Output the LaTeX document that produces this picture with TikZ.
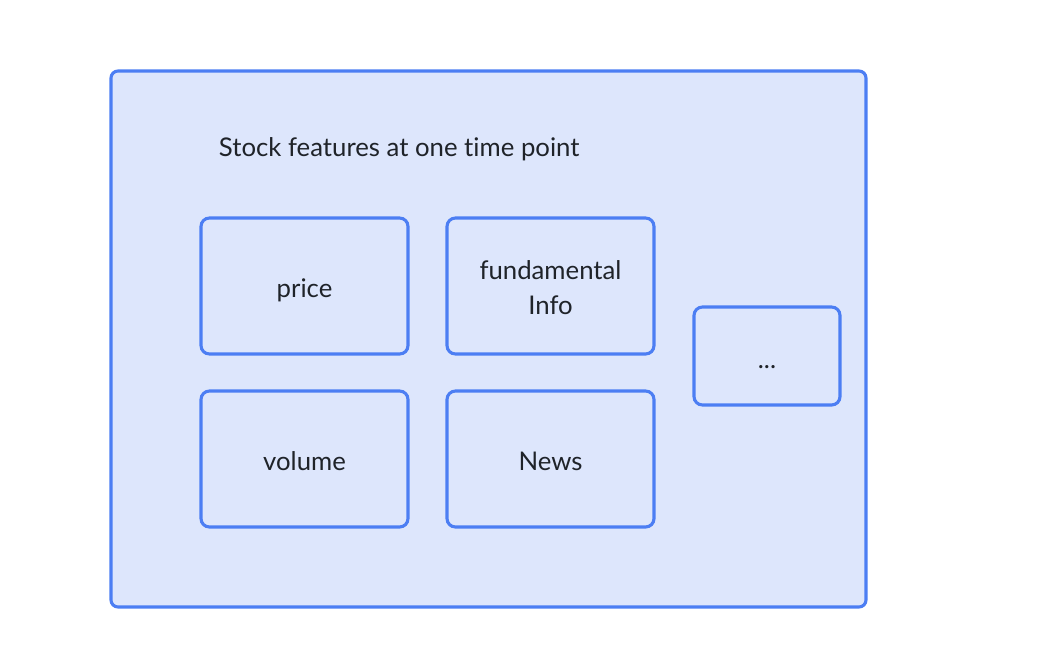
\documentclass[tikz,border=0pt]{standalone}
\usepackage{fontspec}
\setmainfont{Lato}[Ligatures=NoCommon]
\usetikzlibrary{positioning}
\definecolor{featblue}{RGB}{76,126,243}
\definecolor{featlight}{RGB}{221,230,252}
\definecolor{feattext}{RGB}{31,35,41}
\newcommand{\featlabel}[2][8pt]{\raisebox{-#1}[0pt][0pt]{#2}}
\tikzset{
  featbox/.style={rectangle, rounded corners=6pt, draw=featblue, fill=featlight,
    line width=2.2pt, text=feattext, font=\fontsize{18.3}{25}\selectfont,
    align=center, inner sep=0pt},
  framebox/.style={featbox, rounded corners=5pt},
}
\begin{document}
\begin{tikzpicture}[x=0.025cm, y=-0.025cm]
  \useasboundingbox (0,0) rectangle (1044,666);
  \node[framebox, minimum width=755*0.025cm, minimum height=536*0.025cm]
    (frame) at (488.5,339) {};
  \node[anchor=west, text=feattext, font=\fontsize{18.3}{25}\selectfont]
    (title) at (214,149) {Stock features at one time point};
  \node[featbox, minimum width=207*0.025cm, minimum height=136*0.025cm]
    (price) at (304.5,286) {\featlabel{price}};
  \node[featbox, minimum width=207*0.025cm, minimum height=136*0.025cm]
    (fund) at (550.5,286) {\featlabel{fundamental}\\\featlabel{Info}};
  \node[featbox, minimum width=207*0.025cm, minimum height=136*0.025cm]
    (volume) at (304.5,459) {\featlabel{volume}};
  \node[featbox, minimum width=207*0.025cm, minimum height=136*0.025cm]
    (news) at (550.5,459) {\featlabel{News}};
  \node[featbox, minimum width=146*0.025cm, minimum height=98*0.025cm]
    (more) at (767,356) {\featlabel[9pt]{...}};
\end{tikzpicture}
\end{document}
